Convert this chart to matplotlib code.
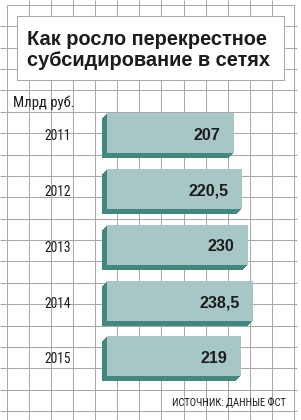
import matplotlib
matplotlib.use('Agg')
import matplotlib.pyplot as plt
from matplotlib import font_manager as fm
from matplotlib.transforms import ScaledTranslation
from matplotlib.patches import Rectangle

# ---- data ----
years = ['2011', '2012', '2013', '2014', '2015']
values = [207, 220.5, 230, 238.5, 219]
value_labels = ['207', '220,5', '230', '238,5', '219']
title_lines = ['Как росло перекрестное', 'субсидирование в сетях']
unit_label = 'Млрд руб.'
source_label = 'ИСТОЧНИК: ДАННЫЕ ФСТ'

W, H = 301, 420
DPI = 100
fig = plt.figure(figsize=(W / DPI, H / DPI), dpi=DPI)
fig.patch.set_facecolor('white')

names = sorted({f.name for f in fm.fontManager.ttflist})
cond = None
for n in ['Liberation Sans Narrow', 'DejaVu Sans Condensed', 'Roboto Condensed',
          'Open Sans Condensed', 'Noto Sans Condensed']:
    if n in names:
        cond = n
        break
if cond is None:
    for n in names:
        if 'Narrow' in n or 'Condensed' in n:
            cond = n
            break
REG = [cond, 'Liberation Sans', 'DejaVu Sans'] if cond else ['Liberation Sans', 'DejaVu Sans']
BOLD = ['Liberation Sans', 'DejaVu Sans']
TXT = '#1c1c1c'
GRID = '#a9a9a9'

# ---- background graph paper ----
bg = fig.add_axes([0, 0, 1, 1])
bg.set_xlim(0, W)
bg.set_ylim(H, 0)
bg.axis('off')
x0g, x1g, nx = 6.7, 294.0, 13
y0g, y1g, ny = 5.0, 411.0, 19
gx = [x0g + (x1g - x0g) * j / nx for j in range(nx + 1)]
gy = [y0g + (y1g - y0g) * k / ny for k in range(ny + 1)]
lw = 0.75
for j, x in enumerate(gx):
    top = y0g if j in (0, nx) else 0
    bg.plot([x, x], [top, H], color=GRID, lw=lw, solid_capstyle='butt', zorder=1)
for k, y in enumerate(gy):
    left = x0g if k == 0 else 0
    right = x1g if k == 0 else 297
    bg.plot([left, right], [y, y], color=GRID, lw=lw, solid_capstyle='butt', zorder=1)

# title box
bg.add_patch(Rectangle((16.5, 16), 267, 64, facecolor='white', edgecolor=GRID, lw=lw, zorder=2))

renderer = fig.canvas.get_renderer()


def fit(t, target_w):
    w = t.get_window_extent(renderer).width
    t.set_fontsize(t.get_fontsize() * target_w / w)


t1 = bg.text(26.7, 45, title_lines[0], family=BOLD, weight='bold', fontsize=14,
             color=TXT, ha='left', va='baseline', zorder=3)
fit(t1, 240)
t2 = bg.text(26.7, 66, title_lines[1], family=BOLD, weight='bold', fontsize=t1.get_fontsize(),
             color=TXT, ha='left', va='baseline', zorder=3)

tu = bg.text(13, 107, unit_label, family=REG, fontsize=10, color=TXT,
             ha='left', va='baseline', zorder=3)
fit(tu, 62)
ts = bg.text(286, 406, source_label, family=REG, fontsize=8, color=TXT,
             ha='right', va='baseline', zorder=3)
fit(ts, 114)

# ---- bars ----
bar_x0 = 107.0          # px, zero of the bar face
px_per_unit = 0.614
xmax = 300
pitch = 55.75           # px between bar centers
first_center = 133.3    # px from top
ax_w = xmax * px_per_unit
ax_top = first_center - pitch / 2
ax_h = pitch * len(years)
ax = fig.add_axes([bar_x0 / W, 1 - (ax_top + ax_h) / H, ax_w / W, ax_h / H])
ax.set_xlim(0, xmax)
ax.set_ylim(len(years) - 0.5, -0.5)
ax.axis('off')
ax.patch.set_visible(False)

idx = list(range(len(years)))
bh = 40.0 / pitch
FACE = '#a7c7c6'
SIDE = '#43887f'
depth = 5
for k in range(depth, 0, -1):
    off = ScaledTranslation(-k / DPI, -k / DPI, fig.dpi_scale_trans)
    ax.barh(idx, values, height=bh, color=SIDE, lw=0, transform=ax.transData + off,
            clip_on=False, zorder=1)
ax.barh(idx, values, height=bh, color=FACE, lw=0, clip_on=False, zorder=2)
ax.set_xlim(0, xmax)
ax.set_ylim(len(years) - 0.5, -0.5)

for i, (v, lab) in enumerate(zip(values, value_labels)):
    ax.annotate(lab, xy=(v, i), xytext=(-14, -6.5), textcoords='offset pixels',
                ha='right', va='baseline', family=BOLD, weight='bold', fontsize=11.6,
                color=TXT, zorder=3)

ty = []
for i, yr in enumerate(years):
    t = ax.annotate(yr, xy=(0, i), xytext=(70.7 - bar_x0, -7), textcoords='offset pixels',
                    ha='right', va='baseline', family=REG, fontsize=11, color=TXT,
                    annotation_clip=False, zorder=3)
    ty.append(t)
w0 = ty[0].get_window_extent(renderer).width
fs = 11 * 26.7 / w0
for t in ty:
    t.set_fontsize(fs)

fig.savefig('out.png', dpi=DPI, facecolor='white')
